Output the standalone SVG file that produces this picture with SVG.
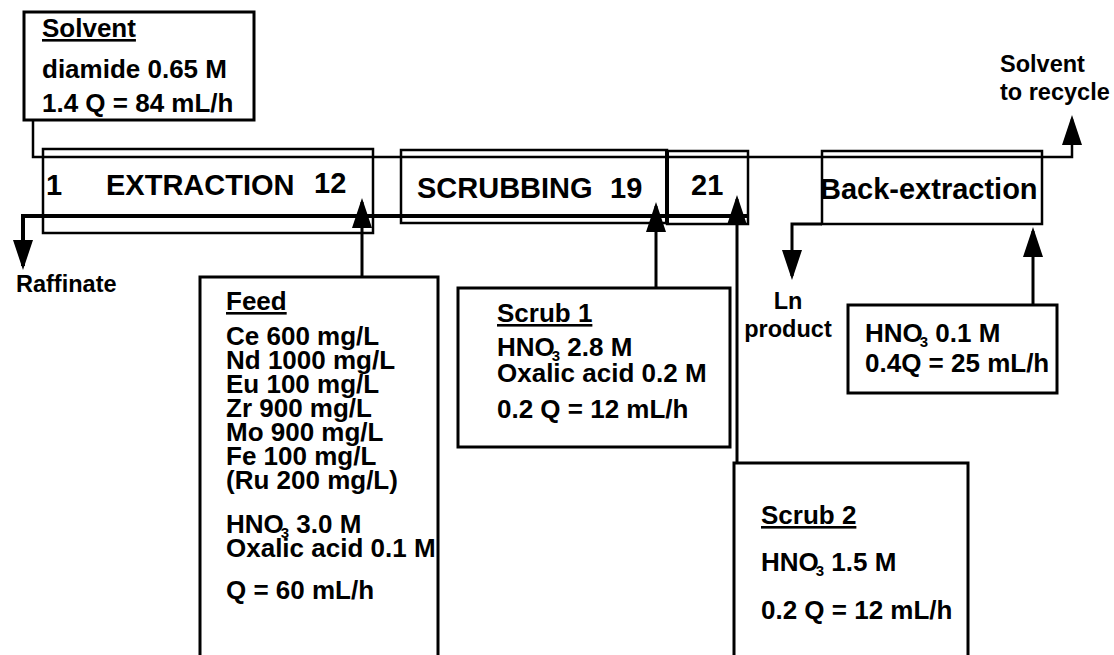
<svg xmlns="http://www.w3.org/2000/svg" width="1114" height="655" viewBox="0 0 1114 655">
<defs>
<style>
text{font-family:"Liberation Sans",Arial,sans-serif;font-weight:bold;fill:#000}
.t{font-size:26px}
.s{font-size:29px}
.o{font-size:23.5px}
.u{text-decoration:underline}
.sub{font-size:15px}
.box{fill:#fff;stroke:#000;stroke-width:3}
.stage{fill:none;stroke:#000;stroke-width:2.5}
.ln{fill:none;stroke:#000;stroke-width:3}
.org{fill:none;stroke:#000;stroke-width:2.5}
.aq{fill:none;stroke:#000;stroke-width:4}
</style>
<marker id="ah" viewBox="0 0 30 20" markerWidth="30" markerHeight="20" refX="26" refY="10" orient="auto" markerUnits="userSpaceOnUse">
<path d="M0,0 L30,10 L0,20 z" fill="#000"/>
</marker>
</defs>
<rect width="1114" height="655" fill="#fff"/>

<g id="extraction">
<rect class="stage" x="43" y="149" width="330" height="84"/>
<text class="s" x="46" y="195">1</text>
<text class="s" x="106" y="195">EXTRACTION</text>
<text class="s" x="314" y="193">12</text>
</g>
<g id="scrubbing">
<rect class="stage" x="401" y="150" width="266" height="73"/>
<text class="s" x="417" y="198">SCRUBBING</text>
<text class="s" x="610" y="198">19</text>
</g>
<g id="stage21">
<rect class="stage" x="667" y="151" width="81" height="73"/>
<line x1="667" y1="150" x2="667" y2="224" stroke="#000" stroke-width="4"/>
<text class="s" x="691" y="195">21</text>
</g>
<g id="backextraction">
<rect class="stage" x="822" y="151" width="220" height="73"/>
<text class="s" x="820" y="199">Back-extraction</text>
</g>

<g id="connectors">
<path class="org" d="M33,120 V157 H1072 V119" marker-end="url(#ah)"/>
<path class="aq" d="M748,216 H23 V266" marker-end="url(#ah)"/>
<path class="ln" d="M362,277 V202" marker-end="url(#ah)"/>
<path class="ln" d="M656,288 V206" marker-end="url(#ah)"/>
<path class="ln" d="M737,463 V199" marker-end="url(#ah)"/>
<path class="ln" d="M822,224 H792 V276" marker-end="url(#ah)"/>
<path class="ln" d="M1033,305 V231" marker-end="url(#ah)"/>
</g>

<g id="solvent">
<rect class="box" x="24" y="12" width="230" height="108"/>
<text class="t u" x="42" y="37">Solvent</text>
<text class="t" x="42" y="78">diamide 0.65 M</text>
<text class="t" x="42" y="112">1.4 Q = 84 mL/h</text>
</g>

<g id="solvent-recycle">
<text class="o" x="1000" y="72">Solvent</text>
<text class="o" x="1000" y="100">to recycle</text>
</g>

<g id="raffinate">
<text class="o" x="16" y="292">Raffinate</text>
</g>

<g id="ln-product">
<text class="o" x="788" y="309" text-anchor="middle">Ln</text>
<text class="o" x="788" y="337" text-anchor="middle">product</text>
</g>

<g id="feed">
<rect class="box" x="200" y="277" width="238" height="400"/>
<text class="t u" x="226" y="310">Feed</text>
<text class="t" x="226" y="345">Ce 600 mg/L</text>
<text class="t" x="226" y="369">Nd 1000 mg/L</text>
<text class="t" x="226" y="393">Eu 100 mg/L</text>
<text class="t" x="226" y="417">Zr 900 mg/L</text>
<text class="t" x="226" y="441">Mo 900 mg/L</text>
<text class="t" x="226" y="465">Fe 100 mg/L</text>
<text class="t" x="226" y="489">(Ru 200 mg/L)</text>
<text class="t" x="226" y="533">HNO<tspan class="sub" dx="-3" dy="5">3</tspan><tspan dy="-5"> 3.0 M</tspan></text>
<text class="t" x="226" y="557">Oxalic acid 0.1 M</text>
<text class="t" x="226" y="599">Q = 60 mL/h</text>
</g>

<g id="scrub1">
<rect class="box" x="458" y="288" width="272" height="159"/>
<text class="t u" x="497" y="322">Scrub 1</text>
<text class="t" x="497" y="356">HNO<tspan class="sub" dx="-3" dy="5">3</tspan><tspan dy="-5"> 2.8 M</tspan></text>
<text class="t" x="497" y="382">Oxalic acid 0.2 M</text>
<text class="t" x="497" y="418">0.2 Q = 12 mL/h</text>
</g>

<g id="scrub2">
<rect class="box" x="734" y="463" width="234" height="210"/>
<text class="t u" x="761" y="524">Scrub 2</text>
<text class="t" x="761" y="571">HNO<tspan class="sub" dx="-3" dy="5">3</tspan><tspan dy="-5"> 1.5 M</tspan></text>
<text class="t" x="761" y="619">0.2 Q = 12 mL/h</text>
</g>

<g id="strip">
<rect class="box" x="848" y="305" width="209" height="88"/>
<text class="t" x="865" y="342">HNO<tspan class="sub" dx="-3" dy="5">3</tspan><tspan dy="-5"> 0.1 M</tspan></text>
<text class="t" x="865" y="372">0.4Q = 25 mL/h</text>
</g>
</svg>
